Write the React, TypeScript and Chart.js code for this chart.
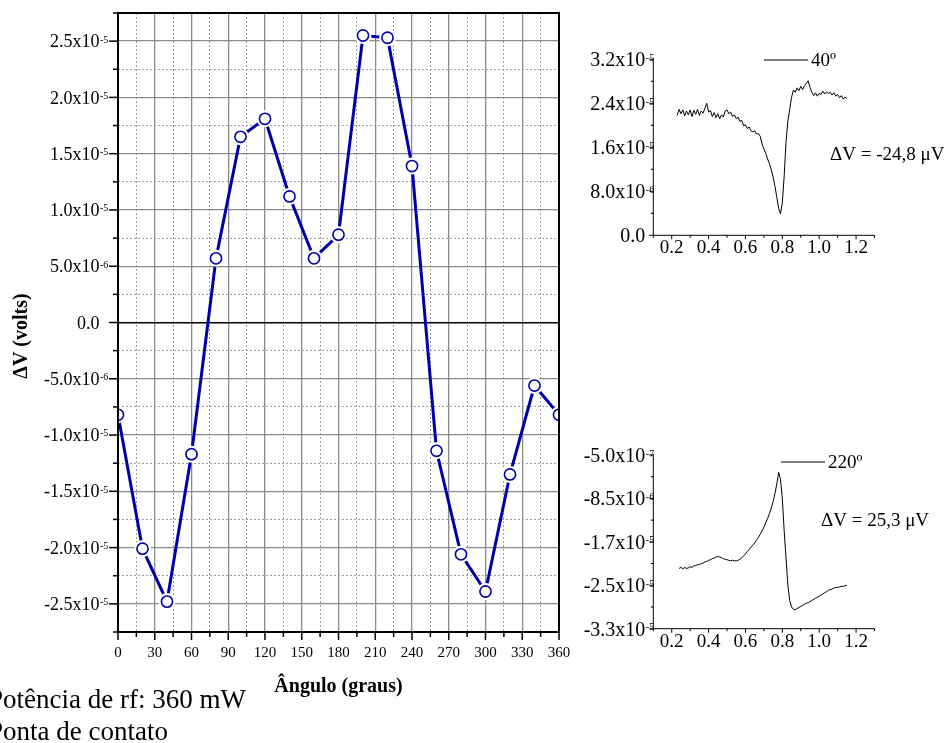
import React, { useEffect, useRef } from "react";
import { Chart, registerables } from "chart.js";

Chart.register(...registerables);

const SERIF = "'Liberation Serif', 'Times New Roman', Times, serif";
const BLUE = "#0000a8";

// ---------- Main chart: ΔV (µV, i.e. x1e-6 V) vs angle (degrees) ----------
const angles = [0, 20, 40, 60, 80, 100, 120, 140, 160, 180, 200, 220, 240, 260, 280, 300, 320, 340, 360];
const deltaV = [-8.2, -20.1, -24.8, -11.7, 5.7, 16.5, 18.1, 11.2, 5.7, 7.8, 25.5, 25.3, 13.9, -11.4, -20.6, -23.9, -13.5, -5.6, -8.2];

const mainXTicks = [0, 30, 60, 90, 120, 150, 180, 210, 240, 270, 300, 330, 360];
const mainYTickValues = [25, 20, 15, 10, 5, 0, -5, -10, -15, -20, -25];
const mainYTickLabels = [
  "2.5x10^-5", "2.0x10^-5", "1.5x10^-5", "1.0x10^-5", "5.0x10^-6", "0.0",
  "-5.0x10^-6", "-1.0x10^-5", "-1.5x10^-5", "-2.0x10^-5", "-2.5x10^-5",
];

// ---------- Inset traces (µV) sampled every 0.01 on the x axis ----------
const insetStep = 0.01;
const trace40Start = 0.23;
const trace40 = [
  21.8, 22.9, 22.1, 22.8, 21.7, 22.6, 21.9, 22.8, 21.6, 22.7,
  22.0, 22.9, 21.8, 22.6, 22.2, 23.1, 24.0, 22.4, 22.7, 21.6,
  22.3, 21.4, 22.1, 21.2, 21.9, 21.5, 22.6, 22.8, 22.1, 22.4,
  21.6, 21.9, 21.2, 21.5, 20.7, 20.9, 19.9, 20.1, 19.4, 19.7,
  19.0, 18.8, 19.0, 18.4, 18.5, 18.0, 16.6, 15.7, 14.9, 13.9,
  13.0, 11.9, 10.6, 8.9, 6.9, 4.9, 3.9, 5.9, 10.8, 17.0,
  20.8, 22.9, 25.1, 26.4, 26.0, 26.8, 26.3, 27.1, 26.5, 27.2,
  27.6, 28.1, 26.9, 26.0, 25.4, 25.9, 25.3, 25.8, 25.6, 26.2,
  25.7, 26.1, 25.8, 26.0, 25.5, 25.9, 25.3, 25.6, 25.0, 25.4,
  24.8, 25.1, 24.9,
];
const trace220Start = 0.24;
const trace220 = [
  -21.4, -21.2, -21.5, -21.2, -21.4, -21.3, -21.1, -21.2, -20.9, -20.9,
  -20.7, -20.7, -20.5, -20.4, -20.2, -20.1, -19.9, -19.8, -19.6, -19.5,
  -19.3, -19.2, -19.3, -19.4, -19.6, -19.7, -19.8, -19.9, -20.0, -19.9,
  -20.0, -20.0, -19.9, -19.7, -19.4, -19.1, -18.7, -18.3, -17.9, -17.5,
  -17.1, -16.7, -16.2, -15.7, -15.1, -14.5, -13.8, -13.0, -12.2, -11.3,
  -10.3, -9.1, -7.6, -5.8, -3.7, -5.0, -8.5, -14.5, -19.5, -24.5,
  -27.3, -28.5, -28.9, -29.0, -28.8, -28.6, -28.4, -28.2, -28.0, -27.8,
  -27.7, -27.5, -27.3, -27.1, -26.9, -26.7, -26.5, -26.3, -26.1, -25.8,
  -25.7, -25.4, -25.3, -25.2, -25.0, -24.9, -24.9, -24.8, -24.7, -24.7,
  -24.6, -24.5,
];

const insetXTicks = [0.2, 0.4, 0.6, 0.8, 1.0, 1.2];
const insetXLabels = ["0.2", "0.4", "0.6", "0.8", "1.0", "1.2"];
const inset40YTicks = [0, 8, 16, 24, 32];
const inset40YLabels = ["0.0", "8.0x10^-6", "1.6x10^-5", "2.4x10^-5", "3.2x10^-5"];
const inset220YTicks = [-0.5, -8.5, -16.5, -24.5, -32.5];
const inset220YLabels = ["-5.0x10^-7", "-8.5x10^-6", "-1.7x10^-5", "-2.5x10^-5", "-3.3x10^-5"];

function splitSci(label: string): [string, string | null] {
  const i = label.indexOf("^");
  return i < 0 ? [label, null] : [label.slice(0, i), label.slice(i + 1)];
}

function drawSciLabel(ctx: CanvasRenderingContext2D, label: string, xRight: number, yMid: number, size: number, supSize: number) {
  const [base, exp] = splitSci(label);
  ctx.font = `${size}px ${SERIF}`;
  ctx.textAlign = "right";
  ctx.textBaseline = "alphabetic";
  const baseline = yMid + size * 0.34;
  ctx.fillText(base, xRight, baseline);
  if (exp) {
    ctx.font = `${supSize}px ${SERIF}`;
    ctx.textAlign = "left";
    ctx.fillText(exp, xRight + 0.5, baseline - size * 0.26);
  }
}

function line(ctx: CanvasRenderingContext2D, x1: number, y1: number, x2: number, y2: number) {
  ctx.beginPath();
  ctx.moveTo(x1, y1);
  ctx.lineTo(x2, y2);
  ctx.stroke();
}

const isMajorX = (v: number) => Math.abs(v % 30) < 1e-6;
const isMajorY = (v: number) => Math.abs(Math.round(v / 5) * 5 - v) < 1e-6;

const mainDecor = {
  id: "mainDecor",
  afterDraw(chart: any) {
    const { ctx, chartArea: a, scales } = chart;
    const x = scales.x;
    const y = scales.y;
    ctx.save();
    ctx.fillStyle = "#000";
    ctx.strokeStyle = "#000";
    // frame
    ctx.lineWidth = 2;
    ctx.strokeRect(a.left, a.top, a.right - a.left, a.bottom - a.top);
    // ticks
    ctx.lineWidth = 1.5;
    for (let k = -11; k <= 11; k++) {
      const v = k * 2.5;
      const py = y.getPixelForValue(v);
      const len = isMajorY(v) ? 9 : 5;
      line(ctx, a.left - len, py, a.left, py);
    }
    for (let v = 0; v <= 360; v += 15) {
      const px = x.getPixelForValue(v);
      const len = isMajorX(v) ? 8 : 5;
      line(ctx, px, a.bottom, px, a.bottom + len);
    }
    // y labels
    mainYTickValues.forEach((v, i) => {
      drawSciLabel(ctx, mainYTickLabels[i], a.left - 18.5, y.getPixelForValue(v), 18, 10);
    });
    // x labels
    ctx.font = `15px ${SERIF}`;
    ctx.textAlign = "center";
    ctx.textBaseline = "middle";
    mainXTicks.forEach((v) => {
      ctx.fillText(String(v), x.getPixelForValue(v), a.bottom + 21);
    });
    // axis titles
    ctx.font = `bold 20px ${SERIF}`;
    ctx.fillText("Ângulo (graus)", (a.left + a.right) / 2, 687);
    ctx.save();
    ctx.translate(22, 336);
    ctx.rotate(-Math.PI / 2);
    ctx.fillText("ΔV (volts)", 0, 0);
    ctx.restore();
    // notes
    ctx.font = `27px ${SERIF}`;
    ctx.textAlign = "left";
    ctx.textBaseline = "alphabetic";
    ctx.fillText("Potência de rf: 360 mW", -12, 708);
    ctx.fillText("Ponta de contato", -12, 740);
    ctx.restore();
  },
};

function makeInsetDecor(id: string, yTicks: number[], yLabels: string[], legendText: string, legendY: number, legendX1: number, dvText: string, dvX: number, dvY: number) {
  return {
    id,
    afterDraw(chart: any) {
      const { ctx, chartArea: a, scales } = chart;
      const x = scales.x;
      const y = scales.y;
      ctx.save();
      ctx.strokeStyle = "#000";
      ctx.fillStyle = "#000";
      ctx.lineWidth = 1;
      line(ctx, a.left, a.top - 1, a.left, a.bottom);
      line(ctx, a.left, a.bottom, a.right, a.bottom);
      // y ticks (major + midpoints)
      yTicks.forEach((v, i) => {
        const py = y.getPixelForValue(v);
        line(ctx, a.left - 4, py, a.left, py);
        if (i < yTicks.length - 1) {
          const pm = y.getPixelForValue((v + yTicks[i + 1]) / 2);
          line(ctx, a.left - 2.5, pm, a.left, pm);
        }
        drawSciLabel(ctx, yLabels[i], a.left - 8, py, 20, 10);
      });
      // x ticks every 0.1
      for (let k = 1; k <= 13; k++) {
        const v = k / 10;
        const px = x.getPixelForValue(v);
        line(ctx, px, a.bottom, px, a.bottom + (k % 2 === 0 ? 4 : 2.5));
      }
      ctx.font = `19px ${SERIF}`;
      ctx.textAlign = "center";
      ctx.textBaseline = "middle";
      insetXTicks.forEach((v, i) => {
        ctx.fillText(insetXLabels[i], x.getPixelForValue(v), a.bottom + 13);
      });
      // legend
      line(ctx, legendX1, legendY, legendX1 + 44, legendY);
      ctx.textAlign = "left";
      ctx.fillText(legendText, legendX1 + 47, legendY + 1);
      ctx.fillText(dvText, dvX, dvY);
      ctx.restore();
    },
  };
}

function tracePoints(start: number, values: number[]) {
  return values.map((v, i) => ({ x: +(start + i * insetStep).toFixed(2), y: v }));
}

function insetConfig(pts: { x: number; y: number }[], yMin: number, yMax: number, padding: any, decor: any): any {
  return {
    type: "line",
    data: {
      datasets: [
        { data: pts, borderColor: "#000", borderWidth: 1, pointRadius: 0, tension: 0, clip: false },
      ],
    },
    options: {
      animation: false,
      responsive: false,
      events: [],
      layout: { padding },
      plugins: { legend: { display: false }, tooltip: { enabled: false } },
      scales: {
        x: { type: "linear", min: 0.1, max: 1.3, display: false },
        y: { type: "linear", min: yMin, max: yMax, display: false },
      },
    },
    plugins: [decor],
  };
}

export default function App() {
  const mainRef = useRef<HTMLCanvasElement>(null);
  const in1Ref = useRef<HTMLCanvasElement>(null);
  const in2Ref = useRef<HTMLCanvasElement>(null);

  useEffect(() => {
    const pts = angles.map((a, i) => ({ x: a, y: deltaV[i] }));
    const gridX: number[] = [];
    for (let v = 0; v <= 360; v += 15) gridX.push(v);
    const gridY: number[] = [];
    for (let k = -11; k <= 11; k++) gridY.push(k * 2.5);
    const clip = { left: 0, right: 0, top: 0, bottom: 0 };

    const main = new Chart(mainRef.current as HTMLCanvasElement, {
      type: "line",
      data: {
        datasets: [
          { data: pts, borderColor: BLUE, borderWidth: 3, pointRadius: 0, tension: 0, order: 3, clip },
          { data: pts, showLine: false, pointRadius: 8.5, pointHoverRadius: 8.5, pointBackgroundColor: "#fff", pointBorderWidth: 0, order: 2, clip },
          { data: pts, showLine: false, pointRadius: 5.6, pointHoverRadius: 5.6, pointBackgroundColor: "#fff", pointBorderColor: BLUE, pointBorderWidth: 1.6, order: 1, clip },
        ],
      },
      options: {
        animation: false,
        responsive: false,
        events: [],
        layout: { padding: { left: 118, top: 13, right: 389, bottom: 111 } },
        plugins: { legend: { display: false }, tooltip: { enabled: false } },
        scales: {
          x: {
            type: "linear",
            min: 0,
            max: 360,
            afterBuildTicks: (s: any) => { s.ticks = gridX.map((v) => ({ value: v })); },
            afterFit: (s: any) => { s.height = 0; },
            ticks: { display: false },
            border: { display: false, dash: (c: any) => (c.tick && !isMajorX(c.tick.value) ? [2, 2] : []) },
            grid: {
              drawTicks: false,
              color: (c: any) => (c.tick && isMajorX(c.tick.value) ? "#8a8a8a" : "#9c9c9c"),
              lineWidth: (c: any) => (c.tick && isMajorX(c.tick.value) ? 1.3 : 1),
            },
          },
          y: {
            type: "linear",
            min: -27.5,
            max: 27.5,
            afterBuildTicks: (s: any) => { s.ticks = gridY.map((v) => ({ value: v })); },
            afterFit: (s: any) => { s.width = 0; },
            ticks: { display: false },
            border: { display: false, dash: (c: any) => (c.tick && !isMajorY(c.tick.value) ? [2, 2] : []) },
            grid: {
              drawTicks: false,
              color: (c: any) => {
                if (!c.tick) return "#8a8a8a";
                if (Math.abs(c.tick.value) < 1e-6) return "#000";
                return isMajorY(c.tick.value) ? "#8a8a8a" : "#9c9c9c";
              },
              lineWidth: (c: any) => {
                if (!c.tick) return 1;
                if (Math.abs(c.tick.value) < 1e-6) return 1.6;
                return isMajorY(c.tick.value) ? 1.3 : 1;
              },
            },
          },
        },
      } as any,
      plugins: [mainDecor],
    });

    const in1 = new Chart(
      in1Ref.current as HTMLCanvasElement,
      insetConfig(
        tracePoints(trace40Start, trace40), 0, 32,
        { left: 653.3, right: 73.5, top: 59.3, bottom: 507.7 },
        makeInsetDecor("in1", inset40YTicks, inset40YLabels, "40º", 60, 764, "ΔV = -24,8 μV", 830, 155)
      )
    );
    const in2 = new Chart(
      in2Ref.current as HTMLCanvasElement,
      insetConfig(
        tracePoints(trace220Start, trace220), -32.5, -0.5,
        { left: 653.3, right: 73.5, top: 455, bottom: 114.3 },
        makeInsetDecor("in2", inset220YTicks, inset220YLabels, "220º", 462, 781, "ΔV = 25,3 μV", 821, 521)
      )
    );

    return () => {
      main.destroy();
      in1.destroy();
      in2.destroy();
    };
  }, []);

  const cs: React.CSSProperties = { position: "absolute", left: 0, top: 0, width: 948, height: 743 };
  return (
    <div style={{ position: "absolute", left: 0, top: 0, width: 948, height: 743, background: "#fff", overflow: "hidden" }}>
      <canvas ref={mainRef} width={948} height={743} style={cs} />
      <canvas ref={in1Ref} width={948} height={743} style={cs} />
      <canvas ref={in2Ref} width={948} height={743} style={cs} />
    </div>
  );
}
